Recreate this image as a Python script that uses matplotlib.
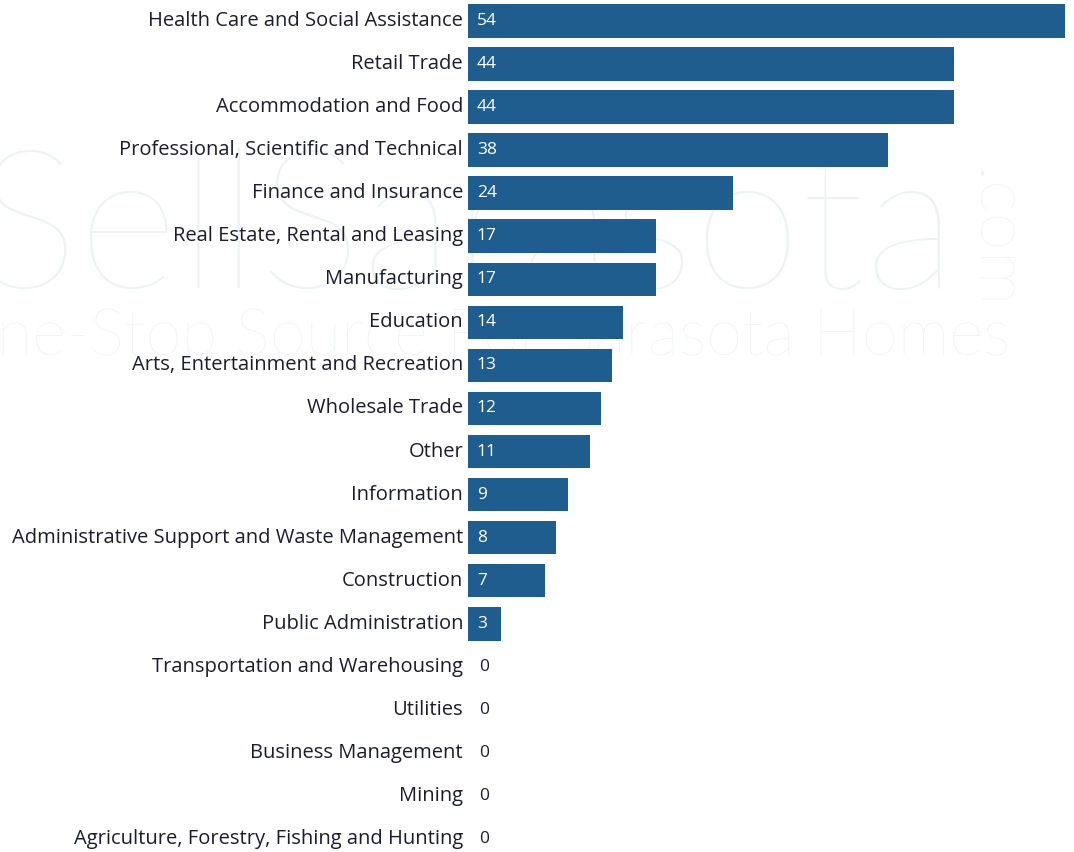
import matplotlib.pyplot as plt

# industries and counts, top to bottom
industries = [
    "Health Care and Social Assistance",
    "Retail Trade",
    "Accommodation and Food",
    "Professional, Scientific and Technical",
    "Finance and Insurance",
    "Real Estate, Rental and Leasing",
    "Manufacturing",
    "Education",
    "Arts, Entertainment and Recreation",
    "Wholesale Trade",
    "Other",
    "Information",
    "Administrative Support and Waste Management",
    "Construction",
    "Public Administration",
    "Transportation and Warehousing",
    "Utilities",
    "Business Management",
    "Mining",
    "Agriculture, Forestry, Fishing and Hunting",
]
counts = [54, 44, 44, 38, 24, 17, 17, 14, 13, 12, 11, 9, 8, 7, 3, 0, 0, 0, 0, 0]

bar_color = '#1f5d8e'
text_color = '#1c1c30'
font = ['Open Sans', 'DejaVu Sans']
W, H = 1074, 852

fig = plt.figure(figsize=(W / 100, H / 100), dpi=100)

# faint watermark behind the chart
bg = fig.add_axes([0, 0, 1, 1], zorder=0)
bg.set_xlim(0, W)
bg.set_ylim(H, 0)
bg.axis('off')
wm_font = ['Lato', 'DejaVu Sans']
bg.text(957, 288, "SellSarasota", fontsize=140, color='#eef2f4', family=wm_font,
        fontweight='light', ha='right', va='baseline')
bg.text(1010, 355, "Your One-Stop Source For Sarasota Homes", fontsize=47, color='#eff1f3',
        family=wm_font, fontweight='light', ha='right', va='baseline')
bg.text(992, 240, ".com", fontsize=50, color='#eef2f6', family=wm_font,
        fontweight='light', rotation=-90, ha='center', va='center')

ax = fig.add_axes([468 / W, 0, (1065 - 468) / W, 1], zorder=1)
ax.patch.set_alpha(0)

n = len(industries)
ypos = list(range(n))
ax.barh(ypos, counts, height=0.78, color=bar_color)

ax.set_xlim(0, 54)
# rows are ~43 px apart, first row centred 21 px from the top
row_px = (839 - 21) / (n - 1)
ax.set_ylim((H - 21) / row_px, -21 / row_px)

for i, (lab, v) in enumerate(zip(industries, counts)):
    ax.text(-0.45, i, lab, ha='right', va='center', fontsize=14.5,
            color=text_color, family=font)
    if v > 0:
        ax.text(0.8, i, str(v), ha='left', va='center', fontsize=12.5,
                color='white', family=font)
    else:
        ax.text(1.0, i, "0", ha='left', va='center', fontsize=12.5,
                color=text_color, family=font)

ax.axis('off')
fig.savefig('out.png', dpi=100)
